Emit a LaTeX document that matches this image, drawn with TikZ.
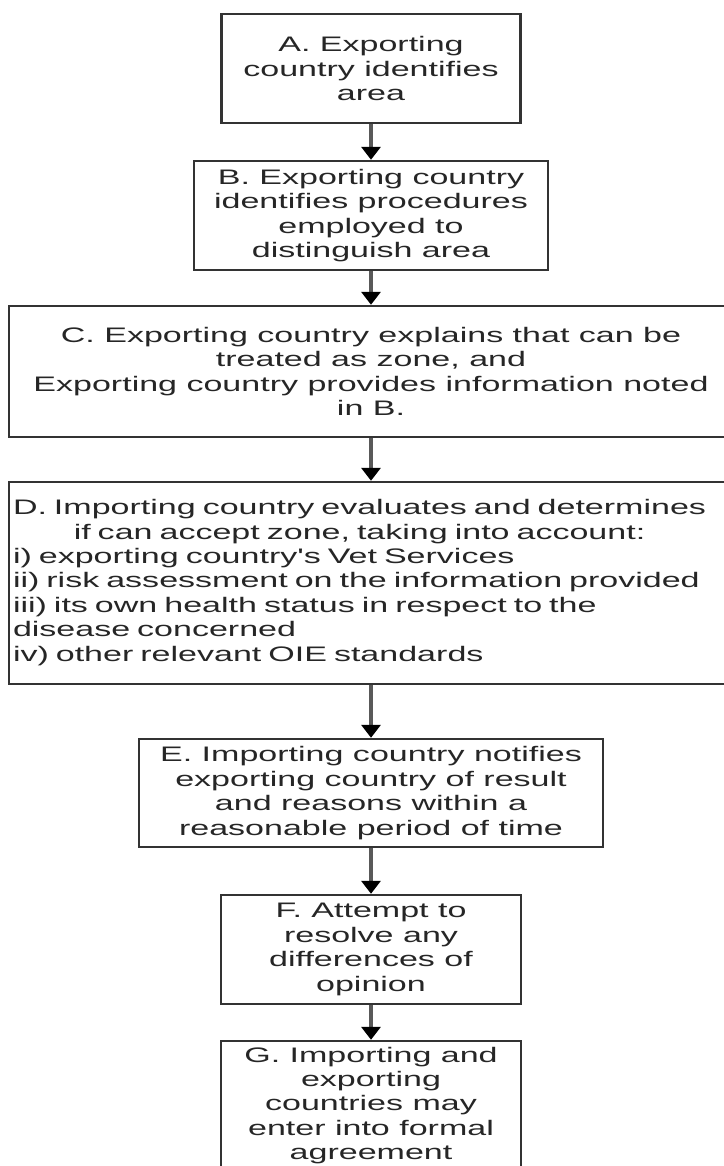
\documentclass[tikz,border=0pt]{standalone}
\usepackage{fontspec}
\setmainfont{Liberation Sans}
\newfontfamily\widefont[FakeStretch=1.62]{Liberation Sans}
\usetikzlibrary{arrows.meta}
\begin{document}
\begin{tikzpicture}[x=1pt,y=-1pt,
  box/.style={draw=black!80, line width=2.4pt, fill=white, text=black!85,
    font=\widefont\fontsize{21}{24.4}\selectfont, align=center, inner sep=0pt},
  arr/.style={line width=3.4pt, draw=black!65,
    -{Triangle[width=19pt,length=13pt,color=black,fill=black]}}]
\fill[white] (0,0) rectangle (723,1166);
\useasboundingbox (0,0) rectangle (723,1166);

\node[box, minimum width=299pt, minimum height=109pt] (A) at (371,68.5)
  {A. Exporting\\country identifies\\area};
\node[box, minimum width=354pt, minimum height=109pt] (B) at (371,215.5)
  {B. Exporting country\\identifies procedures\\employed to\\distinguish area};
\node[box, minimum width=724pt, minimum height=131pt] (C) at (371,371.5)
  {C. Exporting country explains that can be\\treated as zone, and\\Exporting country provides information noted\\in B.};
\node[box, minimum width=724pt, minimum height=202pt, text width=716pt, inner xsep=4pt, align=left] (D) at (371,583)
  {\begin{tabular}{@{}l@{}}
   D. Importing country evaluates and determines\\
   \multicolumn{1}{@{}c@{}}{if can accept zone, taking into account:}\\
   i) exporting country's Vet Services\\
   ii) risk assessment on the information provided\\
   iii) its own health status in respect to the\\
   disease concerned\\
   iv) other relevant OIE standards
   \end{tabular}};
\node[box, minimum width=464pt, minimum height=108pt] (E) at (371,793)
  {E. Importing country notifies\\exporting country of result\\and reasons within a\\reasonable period of time};
\node[box, minimum width=300pt, minimum height=109pt] (F) at (371,949.5)
  {F. Attempt to\\resolve any\\differences of\\opinion};
\node[box, minimum width=300pt, minimum height=129pt] (G) at (371,1105.5)
  {G. Importing and\\exporting\\countries may\\enter into formal\\agreement};

\draw[arr] (A) -- (B);
\draw[arr] (B) -- (C);
\draw[arr] (C) -- (D);
\draw[arr] (D) -- (E);
\draw[arr] (E) -- (F);
\draw[arr] (F) -- (G);
\end{tikzpicture}
\end{document}
